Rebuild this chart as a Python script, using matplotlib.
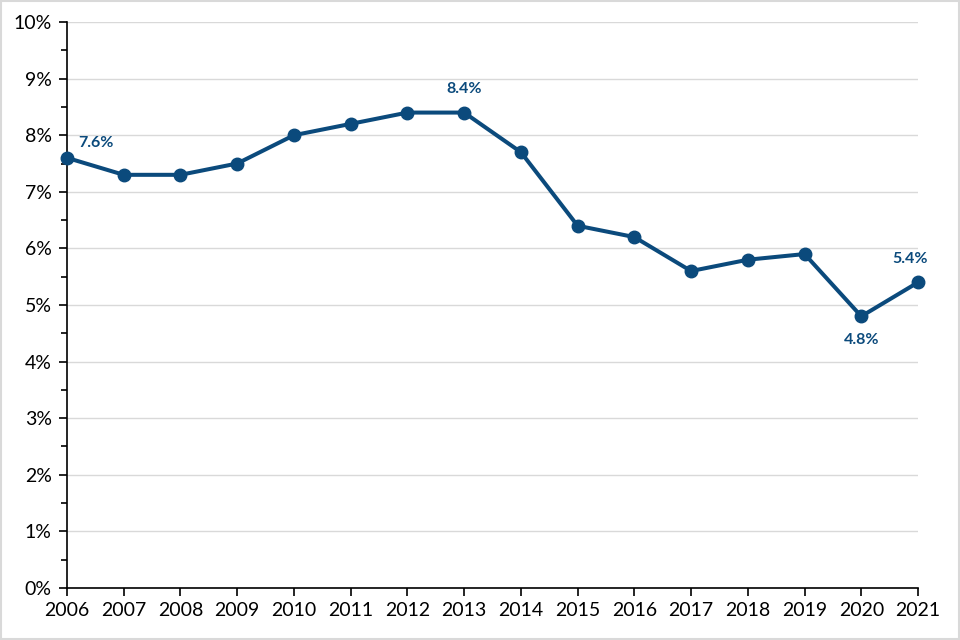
import numpy as np
import matplotlib.pyplot as plt
from matplotlib.ticker import MultipleLocator, FuncFormatter
from matplotlib.patches import Rectangle

# 数据
years = [2006, 2007, 2008, 2009, 2010, 2011, 2012, 2013,
         2014, 2015, 2016, 2017, 2018, 2019, 2020, 2021]
rates = [7.6, 7.3, 7.3, 7.5, 8.0, 8.2, 8.4, 8.4,
         7.7, 6.4, 6.2, 5.6, 5.8, 5.9, 4.8, 5.4]

# 需要标注的点: (年份, 偏移x, 偏移y)
labeled = [(2006, 8, 6), (2013, 0, 12), (2020, 0, -12), (2021, -6, 12)]

plt.rcParams['font.family'] = ['Lato', 'DejaVu Sans']

line_color = "#0B4A7C"

fig = plt.figure(figsize=(9.6, 6.4), dpi=100)
ax = fig.add_axes([0.0698, 0.0813, 0.8865, 0.8843])

ax.plot(years, rates, color=line_color, linewidth=2.9,
        marker="o", markersize=9, zorder=3, clip_on=False)

for yr, dx, dy in labeled:
    v = rates[years.index(yr)]
    va = "bottom" if dy > 0 else "top"
    ha = "left" if dx > 0 else "center"
    ax.annotate(f"{v:.1f}%", (yr, v), xytext=(dx, dy),
                textcoords="offset points", ha=ha, va=va,
                color=line_color, fontsize=11.5, fontweight="bold")

ax.set_xlim(2006, 2021)
ax.set_ylim(0, 10)
ax.set_xticks(years)
ax.yaxis.set_major_locator(MultipleLocator(1))
ax.yaxis.set_minor_locator(MultipleLocator(0.5))
ax.yaxis.set_major_formatter(FuncFormatter(lambda v, p: f"{v:.0f}%"))

ax.grid(axis="y", which="major", color="#D9D9D9", linewidth=1)
ax.set_axisbelow(True)

for s in ["top", "right"]:
    ax.spines[s].set_visible(False)
ax.spines["left"].set_linewidth(1.2)
ax.spines["bottom"].set_linewidth(1.2)

ax.tick_params(axis="both", which="major", length=6, width=1.2,
               labelsize=14, colors="black")
ax.tick_params(axis="y", which="minor", length=4, width=1.2)
ax.tick_params(axis="x", pad=4)
ax.tick_params(axis="y", pad=5)

fig.patches.append(Rectangle((0.001, 0.001), 0.998, 0.998,
                             transform=fig.transFigure, fill=False,
                             edgecolor="#D9D9D9", linewidth=1.5))

fig.savefig("out.png", dpi=100)
